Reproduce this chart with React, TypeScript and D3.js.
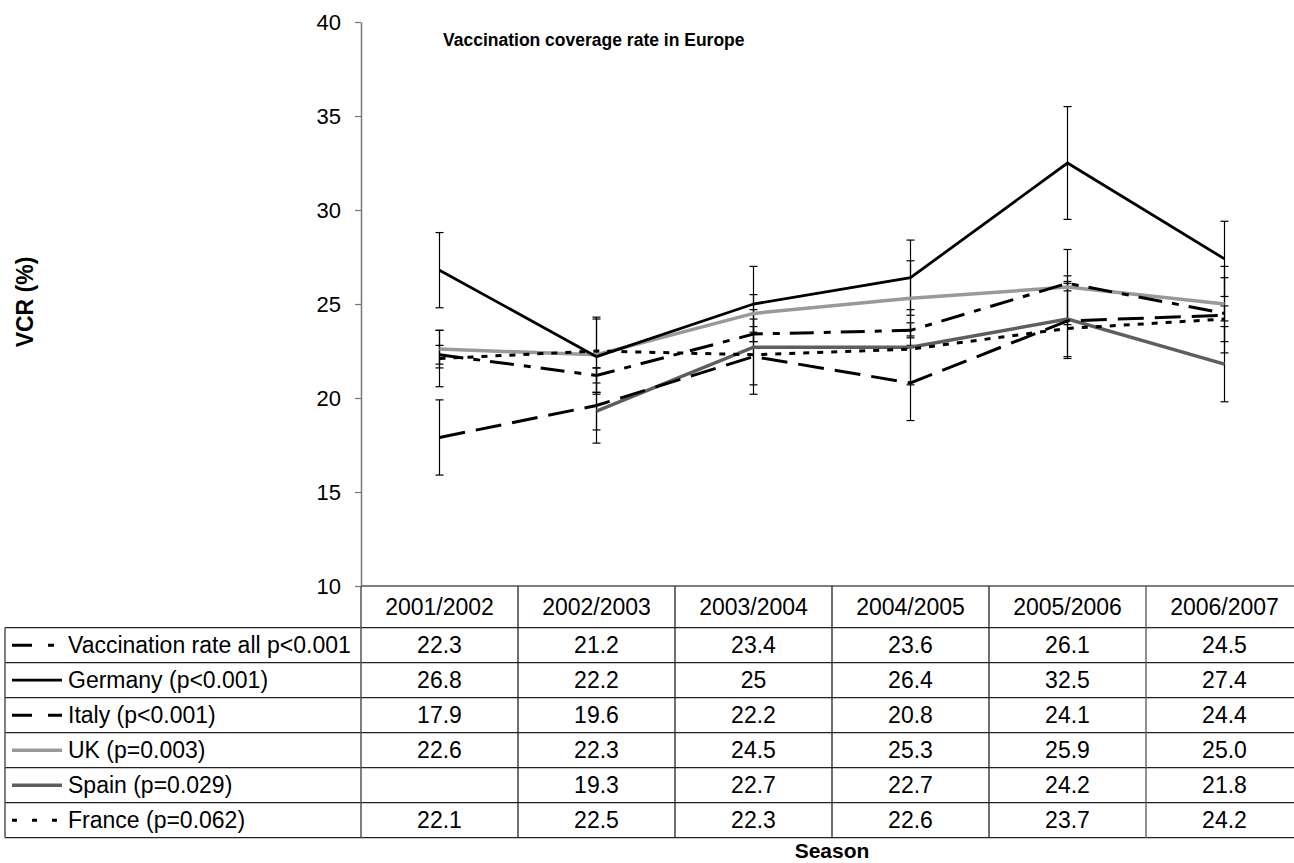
import React, { useEffect, useRef } from 'react';
import * as d3 from 'd3';

// seasons along the x axis / table columns
const seasons = ['2001/2002', '2002/2003', '2003/2004', '2004/2005', '2005/2006', '2006/2007'];

// values as printed in the table ('' = no data)
const allRate = ['22.3', '21.2', '23.4', '23.6', '26.1', '24.5'];
const germany = ['26.8', '22.2', '25', '26.4', '32.5', '27.4'];
const italy = ['17.9', '19.6', '22.2', '20.8', '24.1', '24.4'];
const uk = ['22.6', '22.3', '24.5', '25.3', '25.9', '25.0'];
const spain = ['', '19.3', '22.7', '22.7', '24.2', '21.8'];
const france = ['22.1', '22.5', '22.3', '22.6', '23.7', '24.2'];

// error bar half-widths
const allErr = [0.5, 0.4, 0.4, 0.4, 0.4, 0.4];
const germanyErr = [2, 2, 2, 2, 3, 2];
const italyErr = [2, 2, 2, 2, 2, 2];
const ukErr = [1, 2, 1, 2, 2, 2];
const spainErr = [0, 1, 2, 2, 2, 2];
const franceErr = [1.5, 0, 0, 0, 0, 0];

const seriesNames = [
  'Vaccination rate all p<0.001',
  'Germany (p<0.001)',
  'Italy (p<0.001)',
  'UK (p=0.003)',
  'Spain (p=0.029)',
  'France (p=0.062)',
];

const yTicks = [10, 15, 20, 25, 30, 35, 40];

const FONT = '"Liberation Sans", Arial, Helvetica, sans-serif';

const App = () => {
  const ref = useRef<SVGSVGElement>(null);

  useEffect(() => {
    const svg = d3.select(ref.current);
    svg.selectAll('*').remove();

    const series = [
      { name: seriesNames[0], vals: allRate, err: allErr, color: '#000', width: 3, dash: '24,10,7,10' },
      { name: seriesNames[1], vals: germany, err: germanyErr, color: '#000', width: 2.8, dash: null },
      { name: seriesNames[2], vals: italy, err: italyErr, color: '#000', width: 3, dash: '26,11' },
      { name: seriesNames[3], vals: uk, err: ukErr, color: '#999', width: 3.5, dash: null },
      { name: seriesNames[4], vals: spain, err: spainErr, color: '#5e5e5e', width: 3.5, dash: null },
      { name: seriesNames[5], vals: france, err: franceErr, color: '#000', width: 3, dash: '6,8' },
    ];

    const left = 361;
    const right = 1303;
    const top = 22;
    const bottom = 586;

    const x = d3.scaleBand<string>().domain(seasons).range([left, right]);
    const cx = (s: string) => (x(s) as number) + x.bandwidth() / 2;
    const y = d3.scaleLinear().domain([10, 40]).range([bottom, top]);

    // y axis
    const yAxis = svg.append('g')
      .attr('transform', `translate(${left},0)`)
      .call(d3.axisLeft(y).tickValues(yTicks).tickSize(6).tickSizeOuter(0).tickPadding(14));
    yAxis.select('.domain').attr('stroke', '#777').attr('stroke-width', 1.5);
    yAxis.selectAll('.tick line').attr('stroke', '#777').attr('stroke-width', 1.2);
    yAxis.selectAll('.tick text').attr('font-family', FONT).attr('font-size', 22).attr('fill', '#000');

    // title
    svg.append('text')
      .attr('x', 443).attr('y', 46)
      .attr('font-family', FONT).attr('font-size', 17.5).attr('font-weight', 'bold')
      .text('Vaccination coverage rate in Europe');

    // y label
    svg.append('text')
      .attr('transform', 'translate(33,302) rotate(-90)')
      .attr('text-anchor', 'middle')
      .attr('font-family', FONT).attr('font-size', 23).attr('font-weight', 'bold')
      .text('VCR (%)');

    // error bars
    const eb = svg.append('g');
    series.forEach(s => {
      s.vals.forEach((v, i) => {
        if (v === '' || !s.err[i]) return;
        const xc = cx(seasons[i]);
        const y0 = y(+v - s.err[i]);
        const y1 = y(+v + s.err[i]);
        eb.append('line').attr('x1', xc).attr('x2', xc).attr('y1', y0).attr('y2', y1)
          .attr('stroke', '#000').attr('stroke-width', 1.2);
        [y0, y1].forEach(yy => {
          eb.append('line').attr('x1', xc - 4).attr('x2', xc + 4).attr('y1', yy).attr('y2', yy)
            .attr('stroke', '#000').attr('stroke-width', 1.2);
        });
      });
    });

    // lines
    const line = d3.line<string>()
      .defined(d => d !== '')
      .x((d, i) => cx(seasons[i]))
      .y(d => y(+d));

    const drawOrder = [4, 3, 5, 2, 0, 1];
    drawOrder.forEach(k => {
      const s = series[k];
      svg.append('path')
        .attr('d', line(s.vals) as string)
        .attr('fill', 'none')
        .attr('stroke', s.color)
        .attr('stroke-width', s.width)
        .attr('stroke-dasharray', s.dash)
        .attr('stroke-linejoin', 'miter');
    });

    // data table
    const tableLeft = 5;
    const headTop = bottom;
    const headBottom = 627.7;
    const rowH = 35;
    const tableBottom = headBottom + rowH * series.length;
    const tbl = svg.append('g');
    const lineColor = '#222';

    tbl.append('line').attr('x1', left).attr('x2', right).attr('y1', headTop).attr('y2', headTop)
      .attr('stroke', '#555').attr('stroke-width', 1.5);
    for (let r = 0; r <= series.length; r++) {
      const yy = headBottom + r * rowH;
      tbl.append('line').attr('x1', tableLeft).attr('x2', right).attr('y1', yy).attr('y2', yy)
        .attr('stroke', lineColor).attr('stroke-width', 1.3);
    }
    tbl.append('line').attr('x1', tableLeft).attr('x2', tableLeft).attr('y1', headBottom).attr('y2', tableBottom)
      .attr('stroke', '#555').attr('stroke-width', 1.5);
    tbl.append('line').attr('x1', left).attr('x2', left).attr('y1', headTop).attr('y2', tableBottom)
      .attr('stroke', '#555').attr('stroke-width', 1.5);
    seasons.forEach((s, i) => {
      if (i === 0) return;
      const xx = x(s) as number;
      tbl.append('line').attr('x1', xx).attr('x2', xx).attr('y1', headTop).attr('y2', tableBottom)
        .attr('stroke', i === 5 ? '#555' : lineColor).attr('stroke-width', 1.3);
    });

    // header
    seasons.forEach(s => {
      tbl.append('text')
        .attr('x', cx(s)).attr('y', (headTop + headBottom) / 2)
        .attr('dy', '0.36em').attr('text-anchor', 'middle')
        .attr('font-family', FONT).attr('font-size', 23)
        .text(s);
    });

    // rows
    series.forEach((s, r) => {
      const yc = headBottom + r * rowH + rowH / 2;
      tbl.append('line')
        .attr('x1', 12).attr('x2', 62).attr('y1', yc).attr('y2', yc)
        .attr('stroke', s.color).attr('stroke-width', s.width)
        .attr('stroke-dasharray', r === 0 ? '20,16,6,20' : r === 2 ? '20,16' : r === 5 ? '5,15' : null);
      tbl.append('text')
        .attr('x', 68).attr('y', yc).attr('dy', '0.36em')
        .attr('font-family', FONT).attr('font-size', 23)
        .text(s.name);
      s.vals.forEach((v, i) => {
        tbl.append('text')
          .attr('x', cx(seasons[i])).attr('y', yc).attr('dy', '0.36em')
          .attr('text-anchor', 'middle')
          .attr('font-family', FONT).attr('font-size', 23)
          .text(v);
      });
    });

    // x label
    svg.append('text')
      .attr('x', 832).attr('y', 858)
      .attr('text-anchor', 'middle')
      .attr('font-family', FONT).attr('font-size', 21).attr('font-weight', 'bold')
      .text('Season');
  }, []);

  return (
    <svg
      ref={ref}
      width={1294}
      height={863}
      style={{ position: 'absolute', left: 0, top: 0, background: '#fff' }}
    />
  );
};

export default App;
